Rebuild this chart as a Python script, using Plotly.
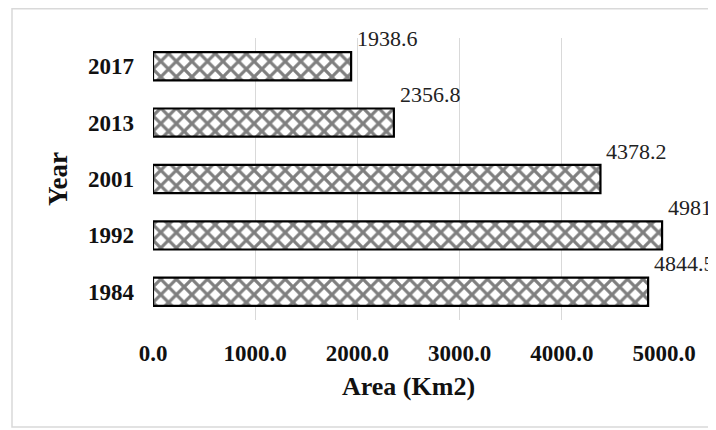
import plotly.graph_objects as go

years = ["1984", "1992", "2001", "2013", "2017"]
areas = [4844.5, 4981.3, 4378.2, 2356.8, 1938.6]
x_ticks = [0, 1000, 2000, 3000, 4000, 5000]
x_tick_labels = ["0.0", "1000.0", "2000.0", "3000.0", "4000.0", "5000.0"]

W, H = 716, 430
OFF = 8  # page body margin
ML, MR, MT, MB = 153 - OFF, 60, 38 - OFF, H - (320 - OFF)
pw, ph = W - ML - MR, H - MT - MB

def px_to_paper_x(px):
    return (px - OFF - ML) / pw

def px_to_paper_y(py):
    return (H - MB - (py - OFF)) / ph

serif = "Liberation Serif"

fig = go.Figure()
fig.add_trace(go.Bar(
    x=areas, y=years, orientation="h",
    marker=dict(
        color="white",
        line=dict(color="black", width=2.2),
        pattern=dict(shape="x", fgcolor="black", bgcolor="white", size=11, solidity=0.5),
    ),
    width=0.5,
))

for i, v in enumerate(areas):
    fig.add_annotation(
        x=v, y=i, text=f"{v:.1f}", showarrow=False,
        xanchor="left", yanchor="middle", xshift=4, yshift=28,
        font=dict(family=serif, size=22, color="#222"),
    )

fig.add_shape(
    type="rect", xref="paper", yref="paper",
    x0=px_to_paper_x(12), x1=px_to_paper_x(760),
    y0=px_to_paper_y(427), y1=px_to_paper_y(8.7),
    line=dict(color="#d9d9d9", width=1.5), fillcolor="rgba(0,0,0,0)", layer="below",
)

fig.update_layout(
    width=W, height=H,
    margin=dict(l=ML, r=MR, t=MT, b=MB),
    paper_bgcolor="white", plot_bgcolor="white",
    showlegend=False,
    bargap=0.5,
    xaxis=dict(
        range=[0, 5000], tickvals=x_ticks, ticktext=x_tick_labels,
        showgrid=True, gridcolor="#d9d9d9", gridwidth=1,
        zeroline=False, showline=False, ticks="",
        ticklabelstandoff=17,
        tickfont=dict(family=serif, size=23, color="#111", weight="bold"),
        title=dict(text="<b>Area (Km2)</b>", font=dict(family=serif, size=26, color="#111"), standoff=11),
    ),
    yaxis=dict(
        type="category", categoryorder="array", categoryarray=years,
        range=[-0.5, len(years) - 0.5], autorange=False,
        showgrid=False, zeroline=False, showline=False, ticks="",
        ticklabelstandoff=18,
        tickfont=dict(family=serif, size=23, color="#111", weight="bold"),
        title=dict(text="<b>Year</b>", font=dict(family=serif, size=27, color="#111"), standoff=12),
    ),
)

fig.write_html("out.html")
